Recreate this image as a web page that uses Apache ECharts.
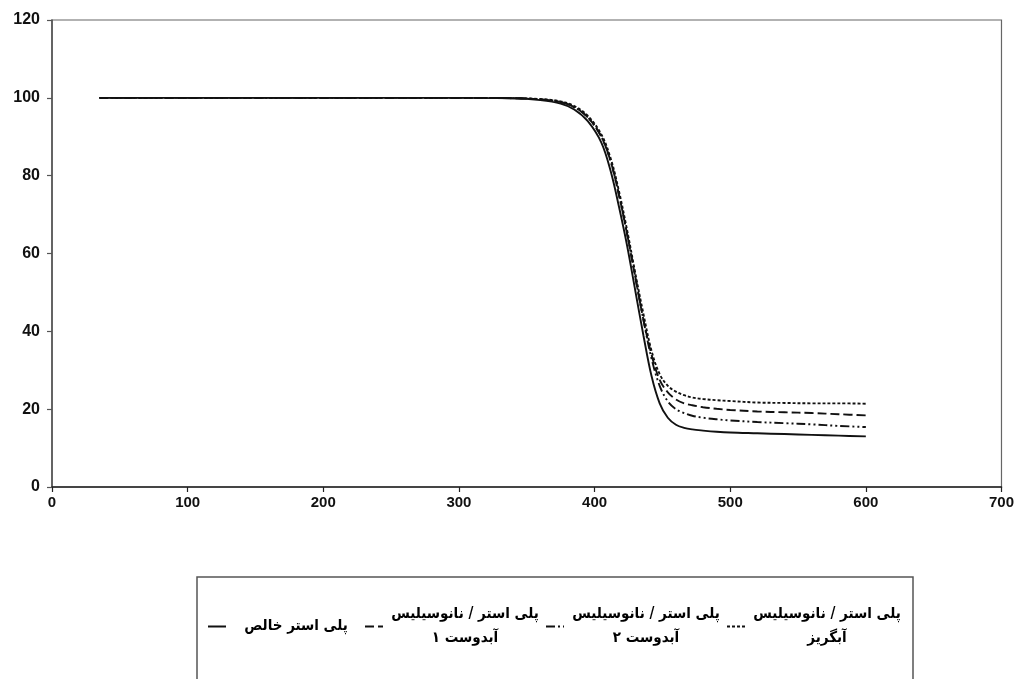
<!DOCTYPE html>
<html>
<head>
<meta charset="utf-8">
<script src="https://cdn.jsdelivr.net/npm/echarts@6/dist/echarts.min.js"></script>
<style>
html,body{margin:0;padding:0;background:#fff;}
#chart{width:1017px;height:679px;}
</style>
</head>
<body>
<div id="chart"></div>
<script>
// Temperature (°C) sample points
const temps = [35, 100, 200, 300, 340, 360, 375, 385, 395, 405, 412, 418, 424, 430, 436, 442, 448, 454, 460, 466, 472, 480, 490, 500, 520, 540, 560, 580, 600];
// Weight (%) per sample
const purePolyester =   [100, 100, 100, 100, 99.9, 99.4, 98.5, 97.0, 94.0, 88.5, 81.0, 72.0, 62.0, 50.5, 39.0, 28.5, 21.5, 17.8, 16.0, 15.2, 14.8, 14.5, 14.2, 14.0, 13.8, 13.6, 13.4, 13.2, 13.0];
const hydrophilic1 =    [100, 100, 100, 100, 99.9, 99.6, 98.9, 97.6, 95.0, 90.0, 83.5, 75.0, 65.0, 54.0, 43.0, 34.0, 27.5, 24.3, 22.5, 21.5, 21.0, 20.5, 20.1, 19.8, 19.4, 19.2, 19.0, 18.7, 18.4];
const hydrophilic2 =    [100, 100, 100, 100, 99.9, 99.6, 98.9, 97.6, 95.0, 90.0, 83.5, 75.0, 65.0, 54.0, 43.0, 33.0, 26.0, 22.0, 20.0, 19.0, 18.3, 17.8, 17.4, 17.1, 16.7, 16.4, 16.1, 15.7, 15.4];
const hydrophobic =     [100, 100, 100, 100, 99.9, 99.7, 99.1, 97.9, 95.4, 90.6, 84.3, 76.0, 66.0, 55.0, 44.5, 35.0, 29.0, 26.0, 24.5, 23.6, 23.0, 22.6, 22.3, 22.1, 21.7, 21.6, 21.5, 21.5, 21.4];

const seriesNames = [
  'پلی استر خالص',
  'پلی استر / نانوسیلیس\nآبدوست ۱',
  'پلی استر / نانوسیلیس\nآبدوست ۲',
  'پلی استر / نانوسیلیس\nآبگریز'
];
const seriesValues = [purePolyester, hydrophilic1, hydrophilic2, hydrophobic];
const seriesDash = ['solid', [9, 4], [9, 3, 2, 3, 2, 3], [3, 2]];

const xTicks = {min: 0, max: 700, interval: 100};
const yTicks = {min: 0, max: 120, interval: 20};

const chart = echarts.init(document.getElementById('chart'), null, {renderer: 'canvas'});

const series = seriesNames.map((name, i) => ({
  name: name,
  type: 'line',
  showSymbol: false,
  symbol: 'none',
  smooth: 0.35,
  data: temps.map((t, j) => [t, seriesValues[i][j]]),
  lineStyle: {color: '#111', width: 1.9, type: seriesDash[i]},
  itemStyle: {color: '#111'},
  z: 10 - i
}));

const legendFont = {align: 'center', fontFamily: '"DejaVu Sans Condensed", "DejaVu Sans"', fontWeight: 'bold', fontSize: 15, lineHeight: 24, color: '#000'};

chart.setOption({
  animation: false,
  backgroundColor: '#fff',
  grid: {left: 52, right: 14, top: 20, bottom: 192, show: true, borderColor: '#666', borderWidth: 1.2, containLabel: false},
  xAxis: {
    type: 'value', min: xTicks.min, max: xTicks.max, interval: xTicks.interval,
    axisLine: {show: true, onZero: false, lineStyle: {color: '#222', width: 1.6}},
    axisTick: {show: true, inside: false, length: 5, lineStyle: {color: '#222', width: 1.2}},
    splitLine: {show: false},
    axisLabel: {color: '#111', fontFamily: 'Liberation Sans Narrow, Liberation Sans, Arial', fontWeight: 'bold', fontSize: 15, margin: 8}
  },
  yAxis: {
    type: 'value', min: yTicks.min, max: yTicks.max, interval: yTicks.interval,
    axisLine: {show: true, onZero: false, lineStyle: {color: '#555', width: 1.6}},
    axisTick: {show: true, inside: false, length: 5, lineStyle: {color: '#555', width: 1.2}},
    splitLine: {show: false},
    axisLabel: {color: '#111', fontFamily: 'Liberation Sans, Arial', fontWeight: 'bold', fontSize: 16, margin: 12}
  },
  legend: {
    show: true,
    orient: 'horizontal',
    left: 202, top: 602,
    itemWidth: 18, itemHeight: 10, itemGap: 3,
    itemStyle: {opacity: 0},
    data: seriesNames,
    formatter: function (name) {
      const key = name === seriesNames[0] ? 'p' : 't';
      return name.split('\n').map(s => '{' + key + '|' + s + '}').join('\n');
    },
    textStyle: {
      color: '#111',
      rich: {
        p: Object.assign({width: 130}, legendFont),
        t: Object.assign({width: 154}, legendFont)
      }
    }
  },
  graphic: [{
    type: 'rect', silent: true,
    shape: {x: 197, y: 577, width: 716, height: 140},
    style: {fill: 'none', stroke: '#555', lineWidth: 1.5}
  }],
  series: series
});
</script>
</body>
</html>
